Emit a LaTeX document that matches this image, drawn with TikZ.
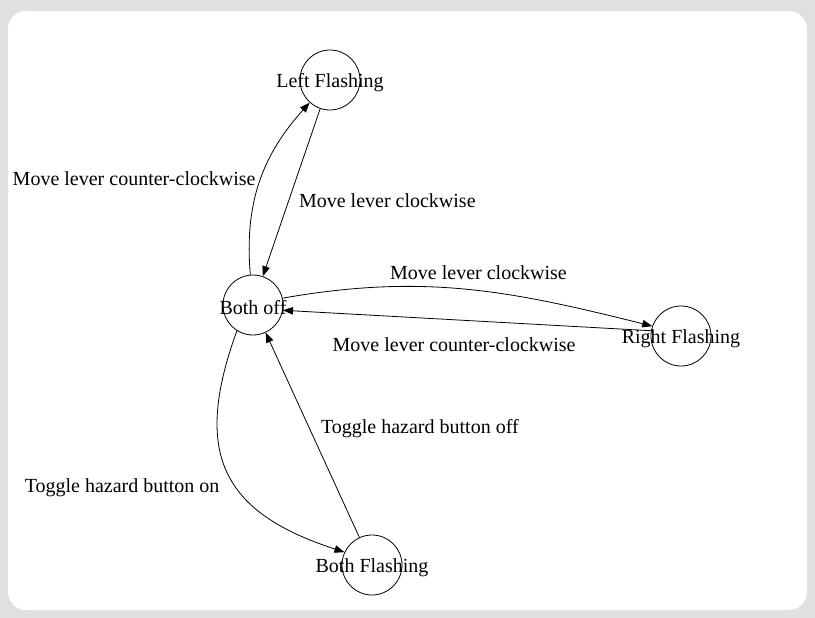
\documentclass[tikz,border=0pt]{standalone}
\usepackage{fontspec}
\setmainfont{Liberation Serif}
\usetikzlibrary{arrows.meta}
\definecolor{framegray}{HTML}{E0E0E0}
\tikzset{
  state/.style={draw, circle, minimum size=60pt, inner sep=0pt, line width=0.8pt},
  trans/.style={-{Triangle[length=10pt,width=7.5pt]}, line width=0.8pt},
  lbl/.style={font=\fontsize{20}{24}\selectfont, inner sep=2pt},
  statelbl/.style={lbl, yshift=-3pt}
}
\begin{document}
\begin{tikzpicture}[x=1pt,y=1pt]
            \fill[framegray] (0,0) rectangle (815,-618);
            \fill[white, rounded corners=18pt] (8,-11) rectangle (807,-610);
            \useasboundingbox (0,0) rectangle (815,-618);

            \node[state, label={[statelbl]center:Left Flashing}] (leftflash) at (330,-80) {};
            \node[state, label={[statelbl]center:Both off}] (bothoff) at (253,-305) {};
            \node[state, label={[statelbl]center:Right Flashing}] (rightflash) at (681,-336) {};
            \node[state, label={[statelbl]center:Both Flashing}] (bothflash) at (372,-565) {};

            \draw[trans] (bothoff.95) to[out=95,in=228] node[lbl, pos=0.52, left=3pt] {Move lever counter-clockwise} (leftflash.228);
            \draw[trans] (leftflash) -- node[lbl, pos=0.55, right=8pt] {Move lever clockwise} (bothoff);
            \draw[trans] (bothoff.13) to[out=10,in=166] node[lbl, pos=0.53, above=9pt] {Move lever clockwise} (rightflash.161);
            \draw[trans] (rightflash.170) -- node[lbl, pos=0.535, below=15pt] {Move lever counter-clockwise} (bothoff.-10);
            \draw[trans] (bothoff.238) to[out=250,in=162,looseness=1.35] node[lbl, pos=0.575, left=15pt] {Toggle hazard button on} (bothflash.155);
            \draw[trans] (bothflash) -- node[lbl, pos=0.53, right=9pt] {Toggle hazard button off} (bothoff);
        \end{tikzpicture}
\end{document}
